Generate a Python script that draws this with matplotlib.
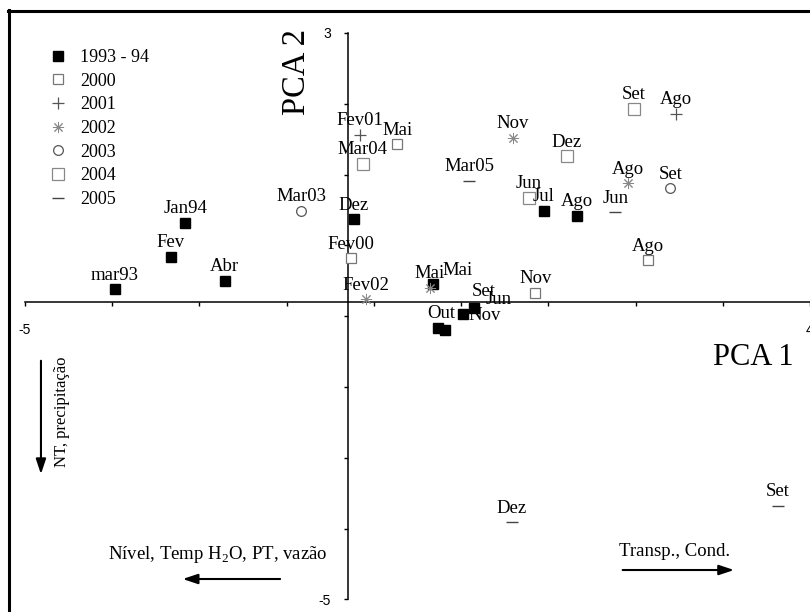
import matplotlib.pyplot as plt
from matplotlib.lines import Line2D

plt.rcParams['font.family'] = ['Liberation Serif', 'DejaVu Serif']
plt.rcParams['mathtext.fontset'] = 'custom'
plt.rcParams['mathtext.rm'] = 'Liberation Serif'

# PCA scores (PCA 1, PCA 2), one list per year
lab_93 = ['mar93', 'Fev', 'Jan94', 'Abr', 'Dez', 'Mai', 'Jul', 'Ago', 'Set', 'Jun', 'Out', 'Nov']
x_93 = [-3.97, -3.33, -3.16, -2.71, -1.23, -0.32, 0.95, 1.33, 0.15, 0.02, -0.27, -0.18]
y_93 = [-0.62, -0.16, 0.32, -0.50, 0.37, -0.55, 0.49, 0.42, -0.88, -0.97, -1.17, -1.20]

lab_00 = ['Fev00', 'Mai', 'Nov', 'Ago']
x_00 = [-1.26, -0.73, 0.85, 2.14]
y_00 = [-0.18, 1.43, -0.67, -0.21]

lab_01 = ['Fev01', 'Ago']
x_01 = [-1.16, 2.46]
y_01 = [1.56, 1.86]

lab_02 = ['Nov', 'Ago', 'Mai', 'Fev02']
x_02 = [0.59, 1.91, -0.36, -1.09]
y_02 = [1.52, 0.88, -0.60, -0.76]

lab_03 = ['Mar03', 'Set']
x_03 = [-1.83, 2.40]
y_03 = [0.49, 0.81]

lab_04 = ['Mar04', 'Jun', 'Dez', 'Set']
x_04 = [-1.13, 0.78, 1.21, 1.98]
y_04 = [1.15, 0.67, 1.26, 1.93]

lab_05 = ['Mar05', 'Jun', 'Dez', 'Set']
x_05 = [0.09, 1.77, 0.58, 3.63]
y_05 = [0.91, 0.47, -3.91, -3.68]

years = ['1993 - 94', '2000', '2001', '2002', '2003', '2004', '2005']

fig = plt.figure(figsize=(8.1, 6.12), dpi=100)
ax = fig.add_axes([0, 0, 1, 1])
ax.set_xlim(-5.2865, 4.0)
ax.set_ylim(-5.178, 3.466)

series = [
    (x_93, y_93, lab_93, dict(marker='s', ms=7, mfc='black', mec='black')),
    (x_00, y_00, lab_00, dict(marker='s', ms=6.5, mfc='white', mec='#777777', mew=0.9)),
    (x_01, y_01, lab_01, dict(marker='+', ms=8, mec='#555555', mew=0.9)),
    (x_02, y_02, lab_02, dict(marker=(8, 2, 0), ms=8, mec='#888888', mew=0.7)),
    (x_03, y_03, lab_03, dict(marker='o', ms=7, mfc='white', mec='#555555', mew=0.9)),
    (x_04, y_04, lab_04, dict(marker='s', ms=8, mfc='white', mec='#888888', mew=0.9)),
    (x_05, y_05, lab_05, dict(marker='_', ms=8, mec='#444444', mew=1.0)),
]

# label offsets in pixels where the label is not centred over its point
shift = {(0, 'Mai'): (24, 14), (0, 'Set'): (9, 16), (0, 'Jun'): (36, 15),
         (0, 'Out'): (4, 15), (0, 'Nov'): (39, 15)}

for i, (xs, ys, labs, st) in enumerate(series):
    ax.plot(xs, ys, ls='none', label=years[i], zorder=3, **st)
    for x, y, t in zip(xs, ys, labs):
        dx, dy = shift.get((i, t), (0, 14))
        ax.annotate(t, (x, y), xytext=(dx, dy), textcoords='offset pixels',
                    ha='center', va='center', fontsize=13.5, zorder=4)

# axes crossing inside the plot
for s in ['top', 'right']:
    ax.spines[s].set_visible(False)
ax.spines['bottom'].set_position(('data', -0.8))
ax.spines['left'].set_position(('data', -1.3))
ax.spines['bottom'].set_bounds(-5, 4)
ax.spines['left'].set_bounds(-5, 3)
ax.spines['bottom'].set_linewidth(1.1)
ax.spines['left'].set_linewidth(1.1)

xt = list(range(-5, 5))
yt = list(range(-5, 4))
ax.set_xticks(xt)
ax.set_xticklabels(['-5'] + [''] * 8 + ['4'])
ax.set_yticks(yt)
ax.set_yticklabels(['-5'] + [''] * 7 + ['3'])
ax.tick_params(axis='both', direction='out', length=3, width=1, labelsize=10)
ax.tick_params(axis='x', pad=12)
ax.tick_params(axis='y', pad=9)
for lbl in ax.get_xticklabels() + ax.get_yticklabels():
    lbl.set_family('Liberation Sans')

ax.text(-1.88, 2.45, 'PCA 2', rotation=90, fontsize=23.5, ha='center', va='center')
ax.text(3.355, -1.59, 'PCA 1', fontsize=22, ha='center', va='center')

ax.text(-4.576, -2.35, 'NT, precipitação', rotation=90, fontsize=12,
        ha='center', va='center')
ax.annotate('', xy=(-4.817, -3.27), xytext=(-4.817, -1.59),
            arrowprops=dict(arrowstyle='-|>,head_length=0.9,head_width=0.3',
                            color='black', lw=1.5))
ax.text(-2.79, -4.36, r'Nível, Temp H$_{\mathrm{2}}$O, PT, vazão', fontsize=13.5,
        ha='center', va='center')
ax.annotate('', xy=(-3.224, -4.712), xytext=(-2.043, -4.712),
            arrowprops=dict(arrowstyle='-|>,head_length=0.9,head_width=0.3',
                            color='black', lw=1.5))
ax.text(2.45, -4.33, 'Transp., Cond.', fontsize=13.5, ha='center', va='center')
ax.annotate('', xy=(3.161, -4.585), xytext=(1.82, -4.585),
            arrowprops=dict(arrowstyle='-|>,head_length=0.9,head_width=0.3',
                            color='black', lw=1.5))

ax.legend(loc='upper left', bbox_to_anchor=(0.06, 0.92), frameon=False,
          fontsize=13, handlelength=1.0, handletextpad=0.75, labelspacing=0.37,
          borderaxespad=0, borderpad=0)

# outer frame (only left and top edges are visible in the picture)
fig.add_artist(Line2D([9 / 810, 9 / 810], [0, 1 - 10 / 612], color='black', lw=2.2,
                      transform=fig.transFigure))
fig.add_artist(Line2D([8 / 810, 1], [1 - 11 / 612, 1 - 11 / 612], color='black', lw=2.2,
                      transform=fig.transFigure))

fig.savefig('out.png', dpi=100)
